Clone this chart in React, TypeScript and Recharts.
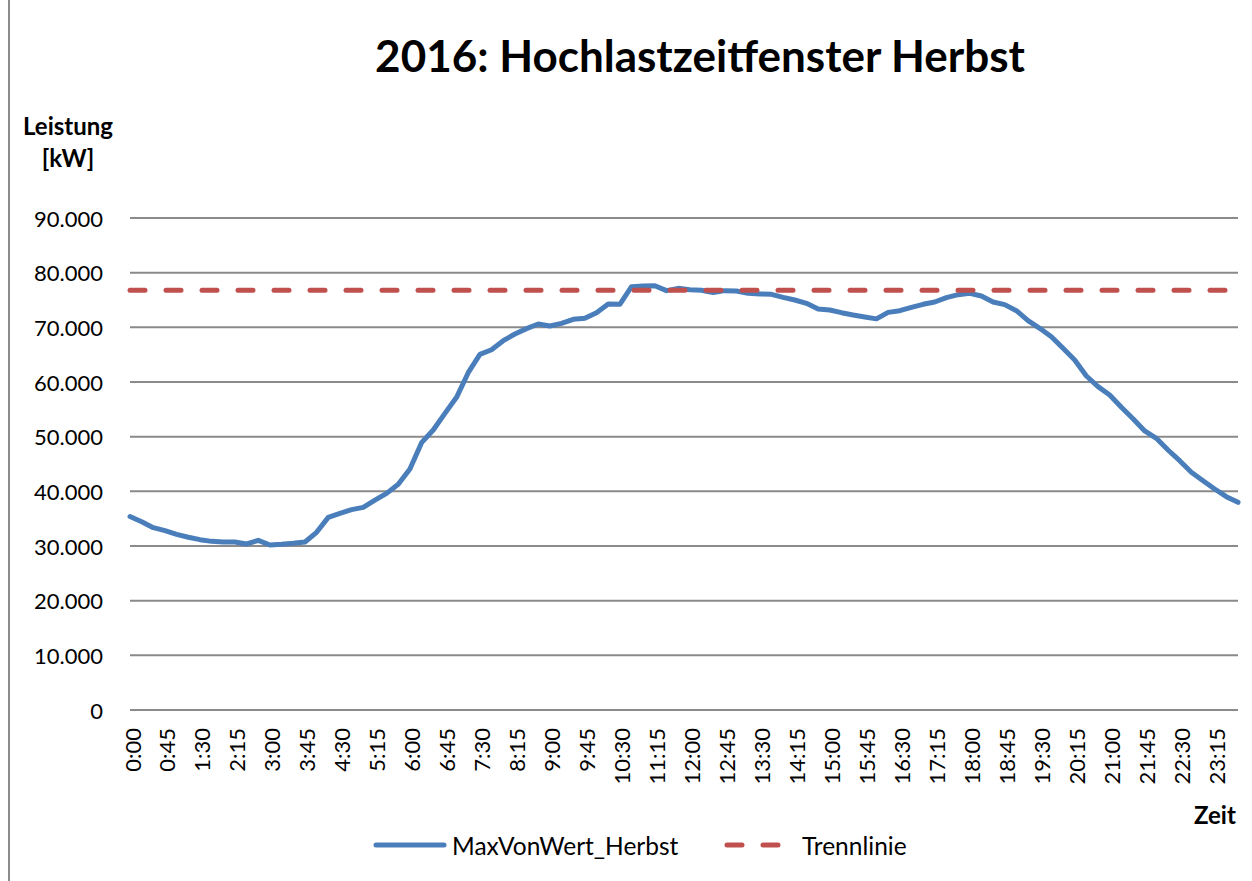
import { LineChart, Line, XAxis, YAxis, CartesianGrid } from 'recharts';

// 15-minute time slots across the day
const times = [
  '0:00', '0:15', '0:30', '0:45', '1:00', '1:15', '1:30', '1:45',
  '2:00', '2:15', '2:30', '2:45', '3:00', '3:15', '3:30', '3:45',
  '4:00', '4:15', '4:30', '4:45', '5:00', '5:15', '5:30', '5:45',
  '6:00', '6:15', '6:30', '6:45', '7:00', '7:15', '7:30', '7:45',
  '8:00', '8:15', '8:30', '8:45', '9:00', '9:15', '9:30', '9:45',
  '10:00', '10:15', '10:30', '10:45', '11:00', '11:15', '11:30', '11:45',
  '12:00', '12:15', '12:30', '12:45', '13:00', '13:15', '13:30', '13:45',
  '14:00', '14:15', '14:30', '14:45', '15:00', '15:15', '15:30', '15:45',
  '16:00', '16:15', '16:30', '16:45', '17:00', '17:15', '17:30', '17:45',
  '18:00', '18:15', '18:30', '18:45', '19:00', '19:15', '19:30', '19:45',
  '20:00', '20:15', '20:30', '20:45', '21:00', '21:15', '21:30', '21:45',
  '22:00', '22:15', '22:30', '22:45', '23:00', '23:15', '23:30', '23:45',
];

// MaxVonWert_Herbst in kW
const maxVonWertHerbst = [
  35400, 34450, 33350, 32800, 32130, 31600, 31160, 30850,
  30730, 30730, 30370, 31040, 30180, 30300, 30490, 30730,
  32500, 35240, 35980, 36650, 37070, 38400, 39630, 41280,
  44090, 48900, 51220, 54270, 57200, 61700, 65060, 65900,
  67560, 68780, 69760, 70610, 70240, 70730, 71460, 71650,
  72680, 74270, 74210, 77440, 77560, 77620, 76710, 77130,
  76890, 76770, 76350, 76710, 76650, 76220, 76100, 76040,
  75490, 75000, 74390, 73350, 73170, 72680, 72260, 71900,
  71550, 72740, 73050, 73660, 74210, 74630, 75430, 75980,
  76220, 75730, 74630, 74150, 73050, 71220, 69820, 68290,
  66160, 64020, 61100, 59150, 57620, 55370, 53290, 51040,
  49700, 47560, 45610, 43480, 41950, 40430, 39020, 37990,
];

const trennlinie = 76800;

const yTicks = [0, 10000, 20000, 30000, 40000, 50000, 60000, 70000, 80000, 90000];

const data = times.map((time, i) => ({
  time,
  herbst: maxVonWertHerbst[i],
  trenn: trennlinie,
}));

const FONT = 'Lato, "Open Sans", sans-serif';

const formatKw = (v: number) =>
  v === 0 ? '0' : `${Math.floor(v / 1000)}.${String(v % 1000).padStart(3, '0')}`;

const YTick = ({ x, y, payload }: any) => (
  <text x={x} y={y} textAnchor="end" dominantBaseline="central"
    fontFamily={FONT} fontSize={22} fill="#000">
    {formatKw(payload.value)}
  </text>
);

const XTick = ({ x, y, payload }: any) => (
  <text x={0} y={0} textAnchor="end" dominantBaseline="central"
    transform={`translate(${x + 2},${y}) rotate(-90)`}
    fontFamily={FONT} fontSize={22} fill="#000">
    {payload.value}
  </text>
);

export default function App() {
  return (
    <div style={{ position: 'absolute', left: 0, top: 0, width: 1252, height: 881, background: '#fff', fontFamily: FONT }}>
      <div style={{ position: 'absolute', left: 8, top: 0, width: 2, height: 881, background: '#8c8c8c' }} />

      <div style={{
        position: 'absolute', left: 0, width: 1400, top: 27, textAlign: 'center',
        fontSize: 44, lineHeight: '56px', fontWeight: 'bold', color: '#000',
      }}>
        2016: Hochlastzeitfenster Herbst
      </div>

      <div style={{
        position: 'absolute', left: 18, width: 100, top: 110, textAlign: 'center',
        fontSize: 24, fontWeight: 'bold', lineHeight: '32px', color: '#000',
      }}>
        Leistung<br />[kW]
      </div>

      <div style={{
        position: 'absolute', left: 1194, top: 800, fontSize: 24, lineHeight: '30px', fontWeight: 'bold', color: '#000',
      }}>
        Zeit
      </div>

      <LineChart
        width={1252}
        height={881}
        data={data}
        margin={{ top: 218, right: 14, bottom: 71, left: 8 }}
      >
        <CartesianGrid vertical={false} stroke="#8a8a8a" strokeWidth={2} />
        <XAxis
          dataKey="time"
          interval={2}
          height={100}
          axisLine={false}
          tickLine={false}
          tickSize={0}
          tickMargin={18}
          tick={<XTick />}
        />
        <YAxis
          width={122}
          domain={[0, 90000]}
          ticks={yTicks}
          axisLine={false}
          tickLine={false}
          tickSize={0}
          tickMargin={27}
          tick={<YTick />}
        />
        <Line
          type="linear"
          dataKey="herbst"
          name="MaxVonWert_Herbst"
          stroke="#4a7ebb"
          strokeWidth={5}
          strokeLinejoin="round"
          strokeLinecap="round"
          dot={false}
          isAnimationActive={false}
        />
        <Line
          type="linear"
          dataKey="trenn"
          name="Trennlinie"
          stroke="#c0504d"
          strokeWidth={5}
          strokeDasharray="15 21"
          strokeLinecap="round"
          dot={false}
          isAnimationActive={false}
        />
      </LineChart>

      <svg style={{ position: 'absolute', left: 0, top: 830 }} width={1252} height={30}>
        <line x1={376} y1={15} x2={444} y2={15} stroke="#4a7ebb" strokeWidth={5} strokeLinecap="round" />
        <line x1={727} y1={15} x2={780} y2={15} stroke="#c0504d" strokeWidth={5}
          strokeDasharray="15 21" strokeLinecap="round" />
        <text x={452} y={15} dominantBaseline="central" fontFamily={FONT} fontSize={24.5} fill="#000">
          MaxVonWert_Herbst
        </text>
        <text x={802} y={15} dominantBaseline="central" fontFamily={FONT} fontSize={24.5} fill="#000">
          Trennlinie
        </text>
      </svg>
    </div>
  );
}
